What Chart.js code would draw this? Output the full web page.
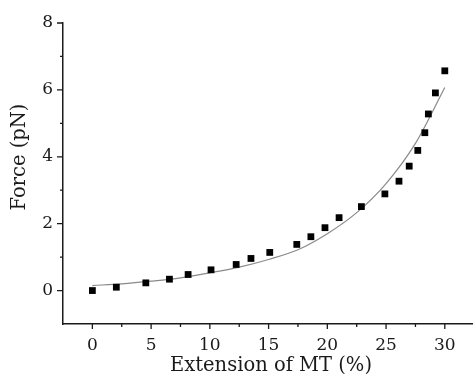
<!DOCTYPE html>
<html>
<head>
<meta charset="utf-8">
<script src="https://cdn.jsdelivr.net/npm/chart.js@4/dist/chart.umd.min.js"></script>
<style>
  html, body { margin: 0; padding: 0; background: #fff; }
  #c { display: block; }
</style>
</head>
<body>
<canvas id="c" width="473" height="374"></canvas>
<script>
// Measured data (extension %, force pN)
const extension = [0, 2.04, 4.55, 6.56, 8.15, 10.1, 12.24, 13.5, 15.1, 17.4, 18.6, 19.8, 21.0, 22.9, 24.9, 26.1, 26.97, 27.7, 28.3, 28.6, 29.2, 30.0];
const force = [0, 0.1, 0.23, 0.34, 0.48, 0.62, 0.78, 0.96, 1.14, 1.38, 1.61, 1.88, 2.18, 2.51, 2.89, 3.27, 3.72, 4.19, 4.72, 5.28, 5.91, 6.57];
// Fitted curve
const fitExtension = [0, 2.5, 5, 7.5, 10, 12.5, 15, 17.5, 20, 22.5, 25, 27.5, 30];
const fitForce = [0.15, 0.2, 0.28, 0.38, 0.53, 0.7, 0.93, 1.22, 1.7, 2.33, 3.2, 4.4, 6.07];
// Ticks
const xMajorTicks = [0, 5, 10, 15, 20, 25, 30];
const xMinorTicks = [2.5, 7.5, 12.5, 17.5, 22.5, 27.5];
const yMajorTicks = [0, 2, 4, 6, 8];
const yMinorTicks = [1, 3, 5, 7];
const xTitle = 'Extension of MT (%)';
const yTitle = 'Force (pN)';

const FONT = "'DejaVu Serif', 'Liberation Serif', serif";
const INK = '#1a1a1a';

const tickPlugin = {
  id: 'ticksAndTitles',
  afterDraw(chart) {
    const { ctx, chartArea: a, scales: { x, y } } = chart;
    ctx.save();
    ctx.strokeStyle = INK;
    ctx.lineWidth = 1.3;
    ctx.beginPath();
    xMajorTicks.forEach(v => { const p = x.getPixelForValue(v); ctx.moveTo(p, a.bottom); ctx.lineTo(p, a.bottom + 5); });
    xMinorTicks.forEach(v => { const p = x.getPixelForValue(v); ctx.moveTo(p, a.bottom); ctx.lineTo(p, a.bottom + 3); });
    yMajorTicks.forEach(v => { const p = y.getPixelForValue(v); ctx.moveTo(a.left, p); ctx.lineTo(a.left - 6, p); });
    yMinorTicks.forEach(v => { const p = y.getPixelForValue(v); ctx.moveTo(a.left, p); ctx.lineTo(a.left - 3, p); });
    ctx.stroke();

    ctx.fillStyle = INK;
    ctx.font = "19.5px " + FONT;
    ctx.textAlign = 'center';
    ctx.textBaseline = 'alphabetic';
    ctx.fillText(xTitle, (a.left + a.right) / 2 + 3, 371);
    ctx.translate(20, 157);
    ctx.rotate(-Math.PI / 2);
    ctx.textBaseline = 'middle';
    ctx.fillText(yTitle, 0, 0);
    ctx.restore();
  }
};

new Chart(document.getElementById('c'), {
  type: 'scatter',
  data: {
    datasets: [
      {
        type: 'line',
        label: 'fit',
        data: fitExtension.map((v, i) => ({ x: v, y: fitForce[i] })),
        borderColor: '#8a8a8a',
        borderWidth: 1.2,
        pointRadius: 0,
        fill: false,
        tension: 0.4,
        cubicInterpolationMode: 'monotone',
        order: 2
      },
      {
        label: 'data',
        data: extension.map((v, i) => ({ x: v, y: force[i] })),
        pointStyle: 'rect',
        pointRadius: 4.8,
        backgroundColor: '#000',
        borderWidth: 0,
        order: 1
      }
    ]
  },
  options: {
    responsive: false,
    animation: false,
    layout: { autoPadding: false, padding: { top: 23, right: 0, bottom: 0, left: 0 } },
    plugins: { legend: { display: false }, tooltip: { enabled: false } },
    scales: {
      x: {
        type: 'linear',
        min: -2.5,
        max: 32.4,
        afterBuildTicks: s => { s.ticks = xMajorTicks.map(v => ({ value: v })); },
        afterFit: s => { s.height = 50; },
        ticks: { font: { family: FONT, size: 17 }, color: INK, padding: 6, maxRotation: 0 },
        grid: { drawOnChartArea: false, drawTicks: true, tickLength: 5, tickColor: 'rgba(0,0,0,0)' },
        border: { display: true, color: INK, width: 1.5 }
      },
      y: {
        type: 'linear',
        min: -1,
        max: 8,
        afterBuildTicks: s => { s.ticks = yMajorTicks.map(v => ({ value: v })); },
        afterFit: s => { s.width = 63; },
        ticks: { font: { family: FONT, size: 17 }, color: INK, padding: 4 },
        grid: { drawOnChartArea: false, drawTicks: true, tickLength: 6, tickColor: 'rgba(0,0,0,0)' },
        border: { display: true, color: INK, width: 1.5 }
      }
    }
  },
  plugins: [tickPlugin]
});
</script>
</body>
</html>
